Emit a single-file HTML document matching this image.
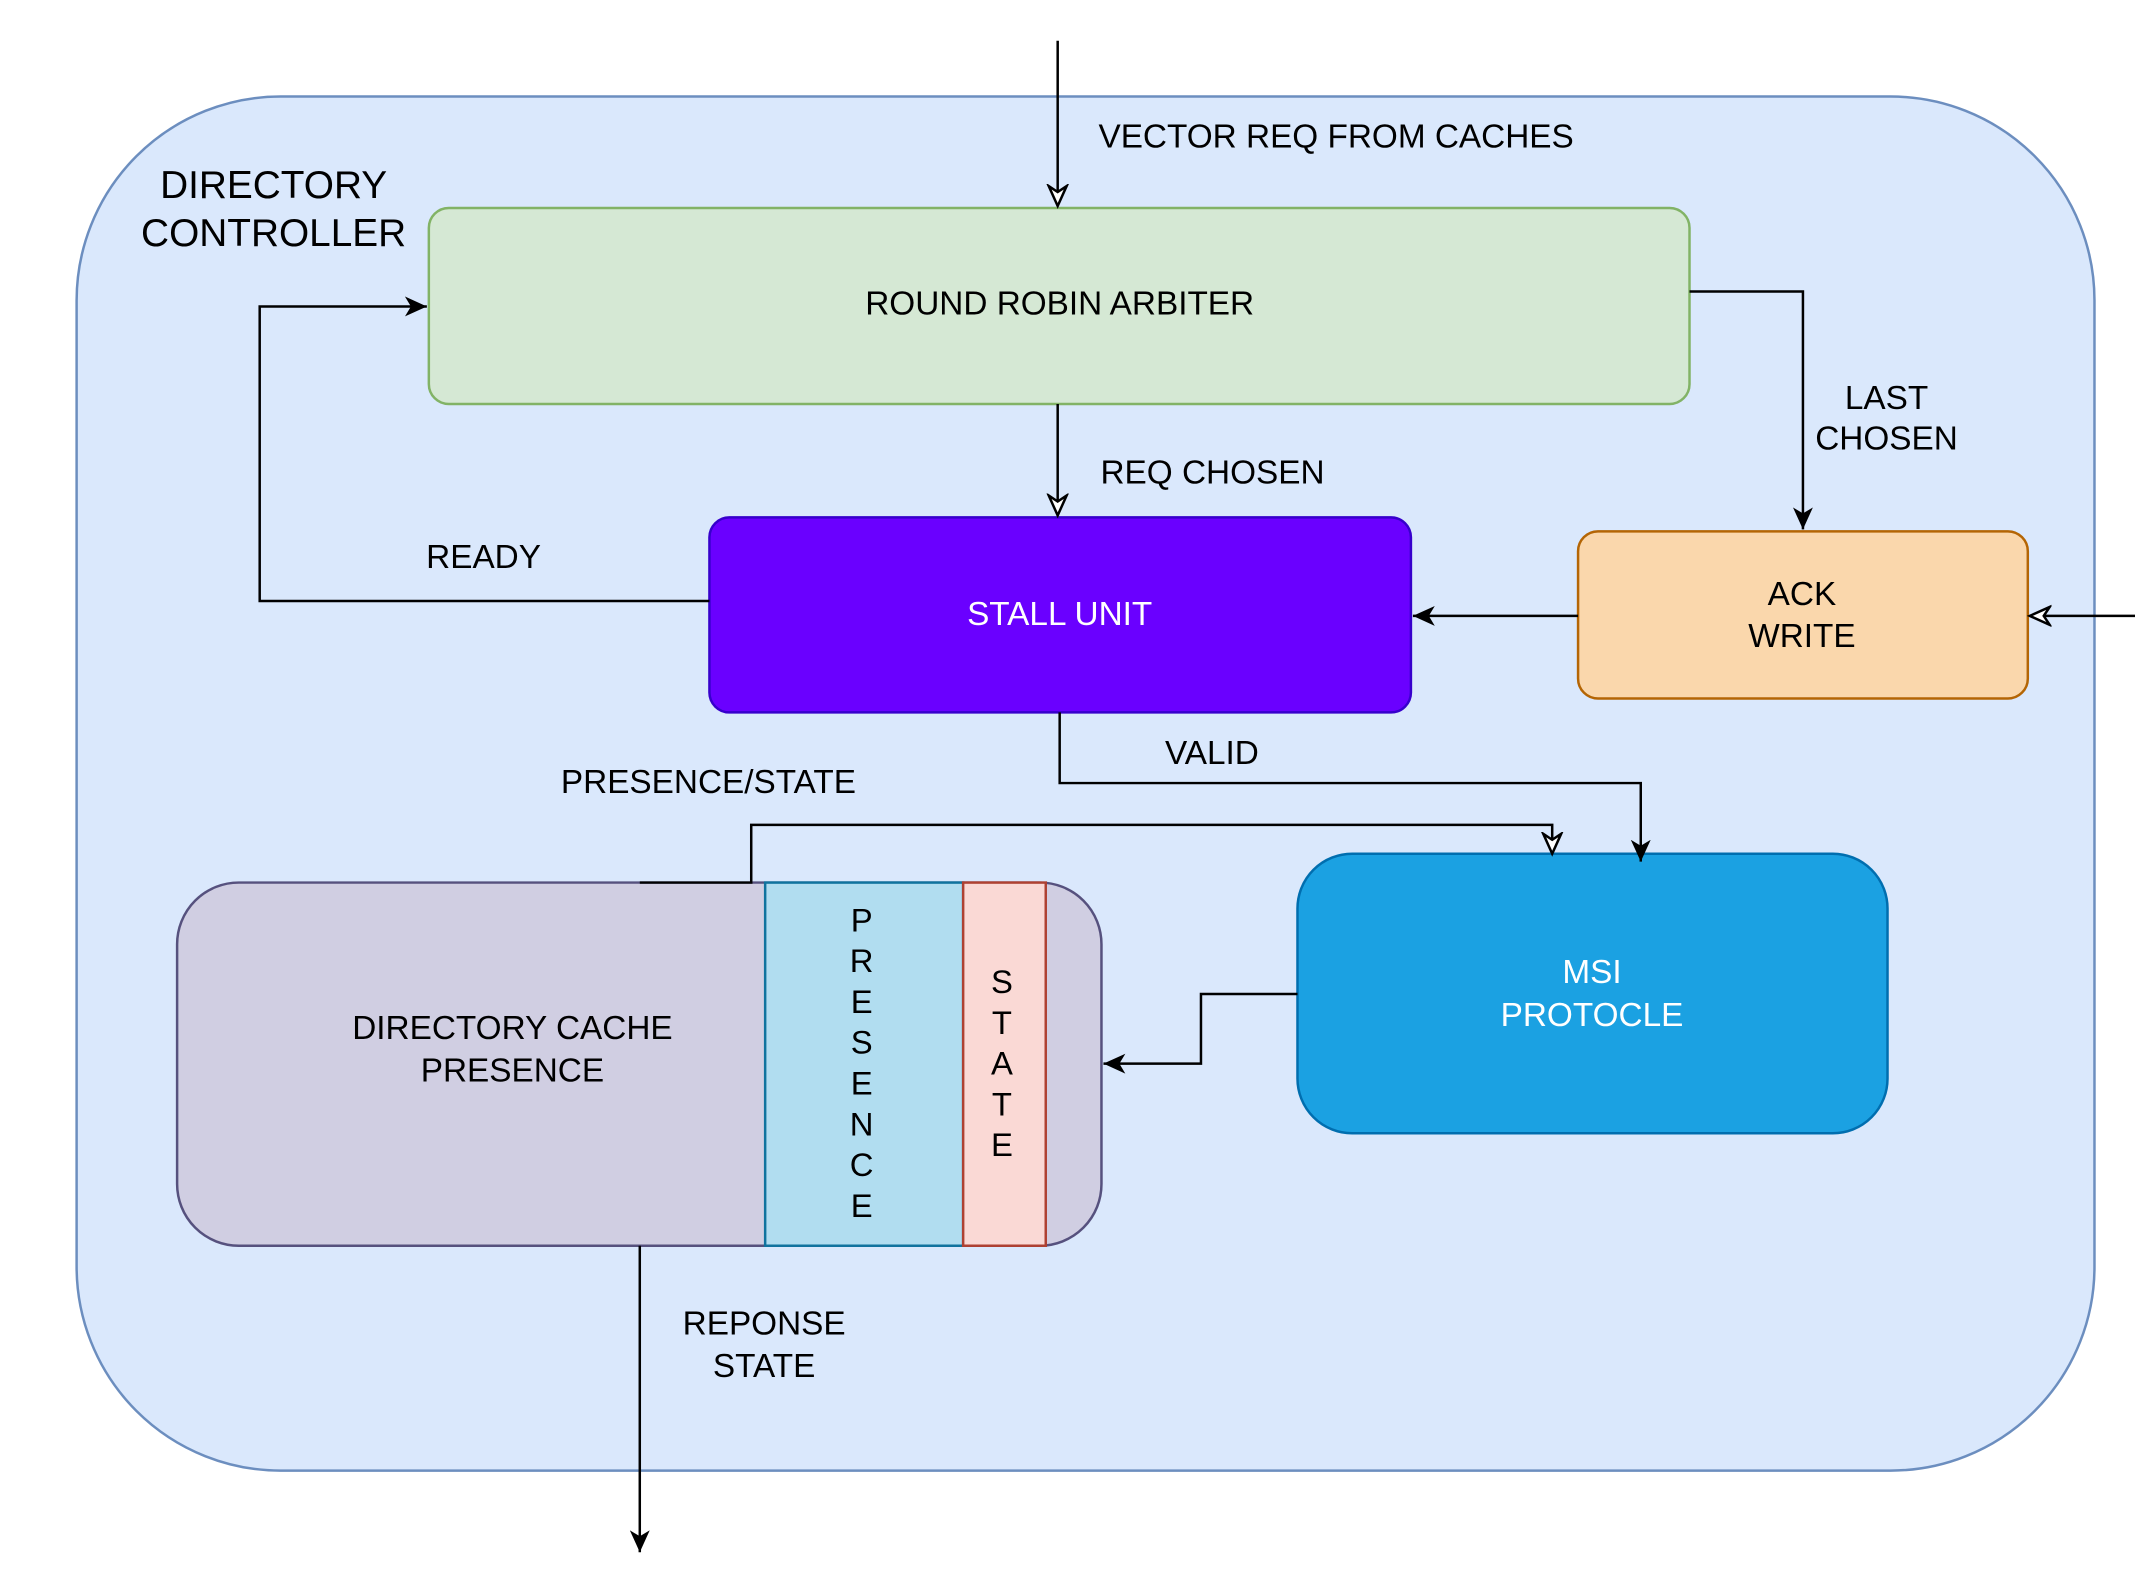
<!DOCTYPE html>
<html><head><meta charset="utf-8"><style>
html,body{margin:0;padding:0;background:#fff;}
svg{display:block;}
text{font-family:"Liberation Sans",Arial,sans-serif;}
</style></head><body>
<svg width="2135" height="1583" viewBox="0 0 2135 1583" xmlns="http://www.w3.org/2000/svg">
<defs>
<marker id="fa" markerWidth="24" markerHeight="24" refX="22" refY="12" orient="auto" markerUnits="userSpaceOnUse">
<path d="M0,2 L22,12 L0,22 L6,12 Z" fill="#000"/></marker>
<marker id="oa" markerWidth="26" markerHeight="26" refX="22" refY="12" orient="auto" markerUnits="userSpaceOnUse">
<path d="M2,3 L22,12 L2,21 L8,12 Z" fill="#fff" stroke="#000" stroke-width="2.5"/></marker>
</defs>
<rect width="2135" height="1583" fill="#fff"/>
<g transform="scale(0.995)">
<rect x="77" y="97" width="2028" height="1381" rx="205" fill="#dae8fc" stroke="#6c8ebf" stroke-width="2.5"/>
<text x="275" y="199" font-size="39" text-anchor="middle">DIRECTORY</text>
<text x="275" y="247" font-size="39" text-anchor="middle">CONTROLLER</text>

<rect x="431" y="209" width="1267" height="197" rx="20" fill="#d5e8d4" stroke="#82b366" stroke-width="2.5"/>
<text x="1065" y="316" font-size="33.5" text-anchor="middle">ROUND ROBIN ARBITER</text>

<rect x="713" y="520" width="705" height="196" rx="20" fill="#6a00ff" stroke="#3700cc" stroke-width="2.5"/>
<text x="1065" y="628" font-size="33.5" text-anchor="middle" fill="#fff">STALL UNIT</text>

<rect x="1586" y="534" width="452" height="168" rx="20" fill="#fad7ac" stroke="#b46504" stroke-width="2.5"/>
<text x="1811" y="608" font-size="33.5" text-anchor="middle">ACK</text>
<text x="1811" y="650" font-size="33.5" text-anchor="middle">WRITE</text>

<rect x="1304" y="858" width="593" height="281" rx="55" fill="#1ba1e2" stroke="#006eaf" stroke-width="2.5"/>
<text x="1600" y="988" font-size="33.5" text-anchor="middle" fill="#fff">MSI</text>
<text x="1600" y="1031" font-size="33.5" text-anchor="middle" fill="#fff">PROTOCLE</text>

<rect x="178" y="887" width="929" height="365" rx="62" fill="#d0cee2" stroke="#56517e" stroke-width="2.5"/>
<rect x="769" y="887" width="199" height="365" fill="#b1ddf0" stroke="#10739e" stroke-width="2.5"/>
<rect x="968" y="887" width="83" height="365" fill="#fad9d5" stroke="#ae4132" stroke-width="2.5"/>
<text x="515" y="1044" font-size="33.5" text-anchor="middle">DIRECTORY CACHE</text>
<text x="515" y="1087" font-size="33.5" text-anchor="middle">PRESENCE</text>
<g font-size="33" text-anchor="middle">
<text x="866" y="936">P</text><text x="866" y="977">R</text><text x="866" y="1018">E</text><text x="866" y="1059">S</text>
<text x="866" y="1100">E</text><text x="866" y="1141">N</text><text x="866" y="1182">C</text><text x="866" y="1223">E</text>
<text x="1007" y="998">S</text><text x="1007" y="1039">T</text><text x="1007" y="1080">A</text><text x="1007" y="1121">T</text><text x="1007" y="1162">E</text>
</g>

<g fill="none" stroke="#000" stroke-width="2.5">
<path d="M1063,41 L1063,207" marker-end="url(#oa)"/>
<path d="M1698,293 L1812,293 L1812,532" marker-end="url(#fa)"/>
<path d="M1063,406 L1063,518" marker-end="url(#oa)"/>
<path d="M713,604 L261,604 L261,308 L429,308" marker-end="url(#fa)"/>
<path d="M1586,619 L1420,619" marker-end="url(#fa)"/>
<path d="M2150,619 L2040,619" marker-end="url(#oa)"/>
<path d="M1065,716 L1065,787 L1649,787 L1649,866" marker-end="url(#fa)"/>
<path d="M643,887 L755,887 L755,829 L1560,829 L1560,858" marker-end="url(#oa)"/>
<path d="M1304,999 L1207,999 L1207,1069 L1109,1069" marker-end="url(#fa)"/>
<path d="M643,1252 L643,1560" marker-end="url(#fa)"/>
</g>

<g font-size="33.5">
<text x="1104" y="148">VECTOR REQ FROM CACHES</text>
<text x="1896" y="411" text-anchor="middle">LAST</text>
<text x="1896" y="452" text-anchor="middle">CHOSEN</text>
<text x="1106" y="486">REQ CHOSEN</text>
<text x="486" y="571" text-anchor="middle">READY</text>
<text x="1218" y="768" text-anchor="middle">VALID</text>
<text x="712" y="797" text-anchor="middle">PRESENCE/STATE</text>
<text x="768" y="1341" text-anchor="middle">REPONSE</text>
<text x="768" y="1384" text-anchor="middle">STATE</text>
</g>
</g>
</svg>
</body></html>
